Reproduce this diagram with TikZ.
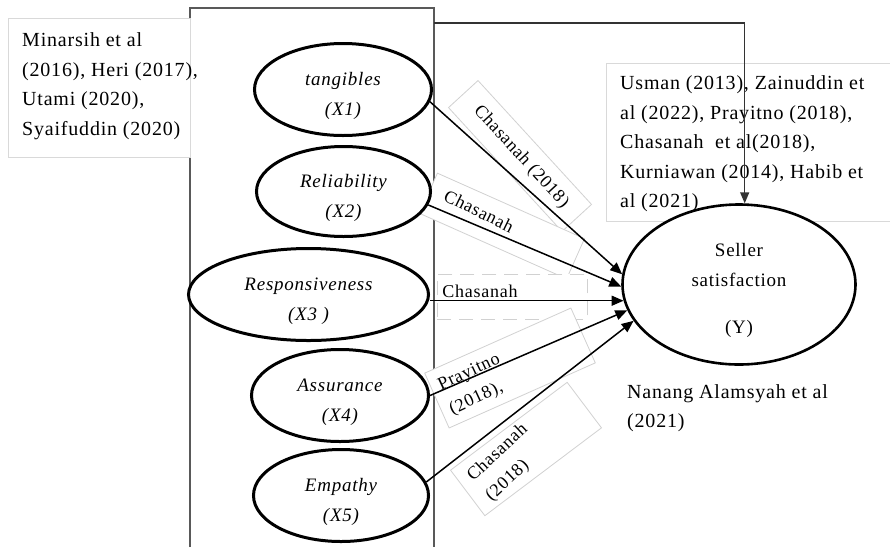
\documentclass[tikz,border=0pt]{standalone}
\usepackage{fontspec}
\setmainfont{Liberation Serif}[LetterSpace=4]
\usetikzlibrary{arrows.meta,shapes.geometric}
\newcommand{\topgap}{\rule{0pt}{27pt}}
\begin{document}
\begin{tikzpicture}[x=1pt,y=-1pt,
  frame/.style={draw=black!65, line width=1.3pt},
  citebox/.style={draw=black!15, line width=1pt, fill=white, rectangle, inner sep=0pt},
  lblbox/.style={draw=black!18, line width=0.8pt, fill=white, rectangle, inner sep=0pt},
  var/.style={ellipse, draw=black, line width=3pt, fill=white, inner sep=0pt, align=center, font=\fontsize{19}{30}\selectfont\itshape},
  dep/.style={ellipse, draw=black, line width=2.6pt, fill=white, inner sep=0pt, align=center, font=\fontsize{19}{30}\selectfont},
  cite/.style={align=left, inner sep=0pt, font=\fontsize{20}{29.5}\selectfont},
  lbl/.style={align=left, inner sep=0pt, font=\fontsize{18}{27}\selectfont},
  arr/.style={draw=black, line width=1.5pt, -{Triangle[length=12pt,width=10pt]}},
  conn/.style={draw=black!80, line width=1.4pt, -{Triangle[length=11pt,width=9pt]}}
]
\useasboundingbox (0,0) rectangle (890,547);
\fill[white] (0,0) rectangle (890,547);

% frame round the dimensions
\coordinate (fbl) at (190,547);
\coordinate (ftl) at (190,8);
\coordinate (ftr) at (434,8);
\coordinate (fbr) at (434,547);
\draw[frame] (fbl) -- (ftl) -- (ftr) -- (fbr);

% left citation
\node[citebox, minimum width=182, minimum height=139] (lbox) at (99,87.5) {};
\node[cite, anchor=west] (ltext) at (22,86) {Minarsih et al\\(2016), Heri (2017),\\Utami (2020),\\Syaifuddin (2020)};

% right citation
\node[citebox, minimum width=284, minimum height=158, anchor=north west] (rbox) at (606,63) {};
\node[cite, anchor=west] (rtext) at (620,144) {Usman (2013), Zainuddin et\\al (2022), Prayitno (2018),\\Chasanah\ \ et al(2018),\\Kurniawan (2014), Habib et\\al (2021)};

% label boxes
\node[lblbox, minimum width=168, minimum height=40, rotate=-47.5] (b1) at (520,156) {};
\node[lblbox, minimum width=161, minimum height=44, rotate=-24] (b2) at (502,226) {};
\node[lblbox, dash pattern=on 14pt off 8pt, minimum width=150, minimum height=45, anchor=north west] (b3) at (437,274) {};
\node[lblbox, minimum width=160, minimum height=60, rotate=24] (b4) at (510,368) {};
\node[lblbox, minimum width=146, minimum height=57, rotate=37] (b5) at (526,449) {};

% labels
\node[lbl, rotate=-47.5] (l1) at (521,157) {Chasanah (2018)};
\node[lbl, rotate=-26] (l2) at (479,211) {Chasanah};
\node[lbl] (l3) at (480,291) {Chasanah};
\node[lbl, rotate=25] (l4) at (475,385) {Prayitno\\(2018),};
\node[lbl, rotate=43] (l5) at (507,463) {Chasanah\\(2018)};

% variables
\node[var, minimum width=177, minimum height=92] (X1) at (343,89.5) {\topgap tangibles\\(X1)};
\node[var, minimum width=174, minimum height=90] (X2) at (343.5,191.5) {\topgap Reliability\\(X2)};
\node[var, minimum width=240, minimum height=92] (X3) at (308.5,294.5) {\topgap Responsiveness\\(X3\ )};
\node[var, minimum width=177, minimum height=92] (X4) at (340,395.5) {\topgap Assurance\\(X4)};
\node[var, minimum width=175, minimum height=92] (X5) at (341,495.5) {\topgap Empathy\\(X5)};
\node[dep, minimum width=233, minimum height=160] (Y) at (739,284.5) {\rule{0pt}{25pt}Seller\\satisfaction\\[17pt](Y)};

\node[cite, anchor=west] (nan) at (627,408) {Nanang Alamsyah et al\\(2021)};

% connectors
\draw[arr] (X1.-8) -- (Y.175);
\draw[arr] (X2.-9) -- (Y.181);
\draw[arr] (X3.east |- Y.188) -- (Y.188);
\draw[arr] (X4.east) -- (Y.193);
\draw[arr] (X5.9) -- (Y.199);

\coordinate (tstart) at (434,23);
\draw[conn] (tstart) -| (Y.86);
\end{tikzpicture}
\end{document}
